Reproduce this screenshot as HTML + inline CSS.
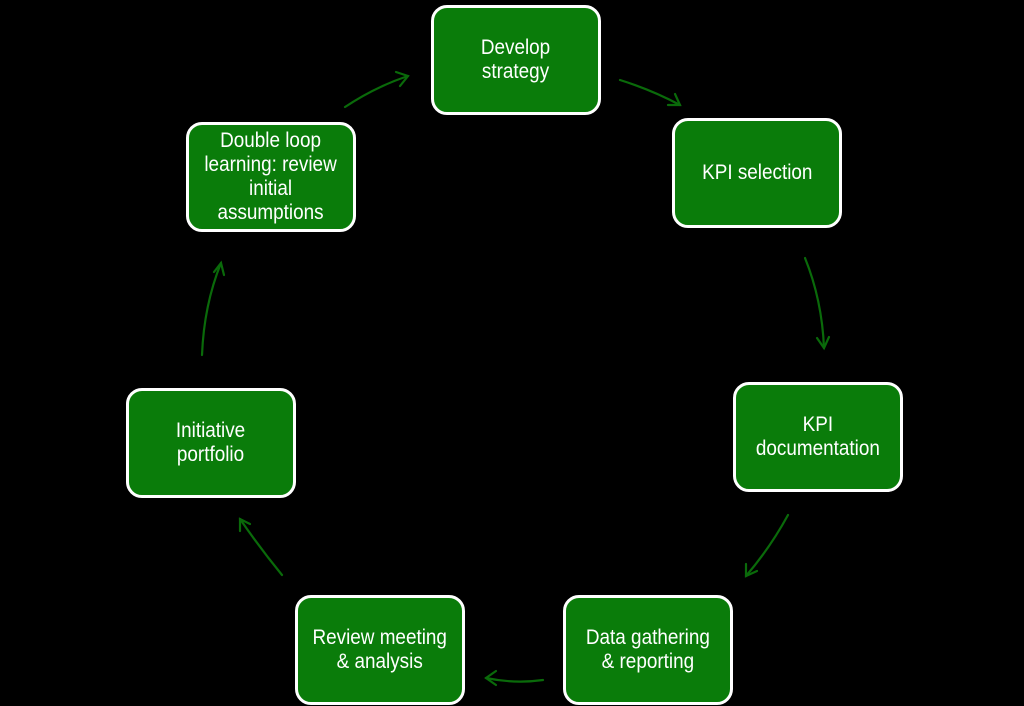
<!DOCTYPE html>
<html><head><meta charset="utf-8"><style>
html,body{margin:0;padding:0;background:#000;}
body{width:1024px;height:706px;position:relative;overflow:hidden;font-family:"Liberation Sans",sans-serif;}
.b{position:absolute;width:164px;height:104px;background:#0a7c0a;border:3px solid #fff;border-radius:16px;box-sizing:content-box;display:flex;align-items:center;justify-content:center;text-align:center;color:#fff;font-size:21px;line-height:24px;}
.b span{display:inline-block;transform:scaleX(0.9);white-space:nowrap;}
svg{position:absolute;left:0;top:0;}
</style></head><body>
<svg width="1024" height="706" viewBox="0 0 1024 706" fill="none" stroke="#0a6a0a" stroke-width="2.2" stroke-linecap="round">
<path d="M345 107 Q375 87 408 76"/><path d="M396 72 L408 76 L400 86"/>
<path d="M620 80 Q652 90 680 105"/><path d="M668 105 L680 105 L675 94"/>
<path d="M805 258 Q822 300 824 348"/><path d="M817 338 L824 348 L829 337"/>
<path d="M788 515 Q770 548 746 576"/><path d="M746 564 L746 576 L757 571"/>
<path d="M543 680 Q515 684 486 678"/><path d="M496 671 L486 678 L496 685"/>
<path d="M282 575 Q260 548 240 519"/><path d="M240 531 L240 519 L250 524"/>
<path d="M202 355 Q204 305 221 263"/><path d="M214 272 L221 263 L224 275"/>
</svg>
<div class="b" style="left:431px;top:5px"><span>Develop<br>strategy</span></div>
<div class="b" style="left:672px;top:118px"><span>KPI selection</span></div>
<div class="b" style="left:733px;top:382px"><span>KPI<br>documentation</span></div>
<div class="b" style="left:563px;top:595px"><span>Data gathering<br>&amp; reporting</span></div>
<div class="b" style="left:295px;top:595px"><span>Review meeting<br>&amp; analysis</span></div>
<div class="b" style="left:126px;top:388px"><span>Initiative<br>portfolio</span></div>
<div class="b" style="left:186px;top:122px"><span>Double loop<br>learning: review<br>initial<br>assumptions</span></div>
</body></html>
